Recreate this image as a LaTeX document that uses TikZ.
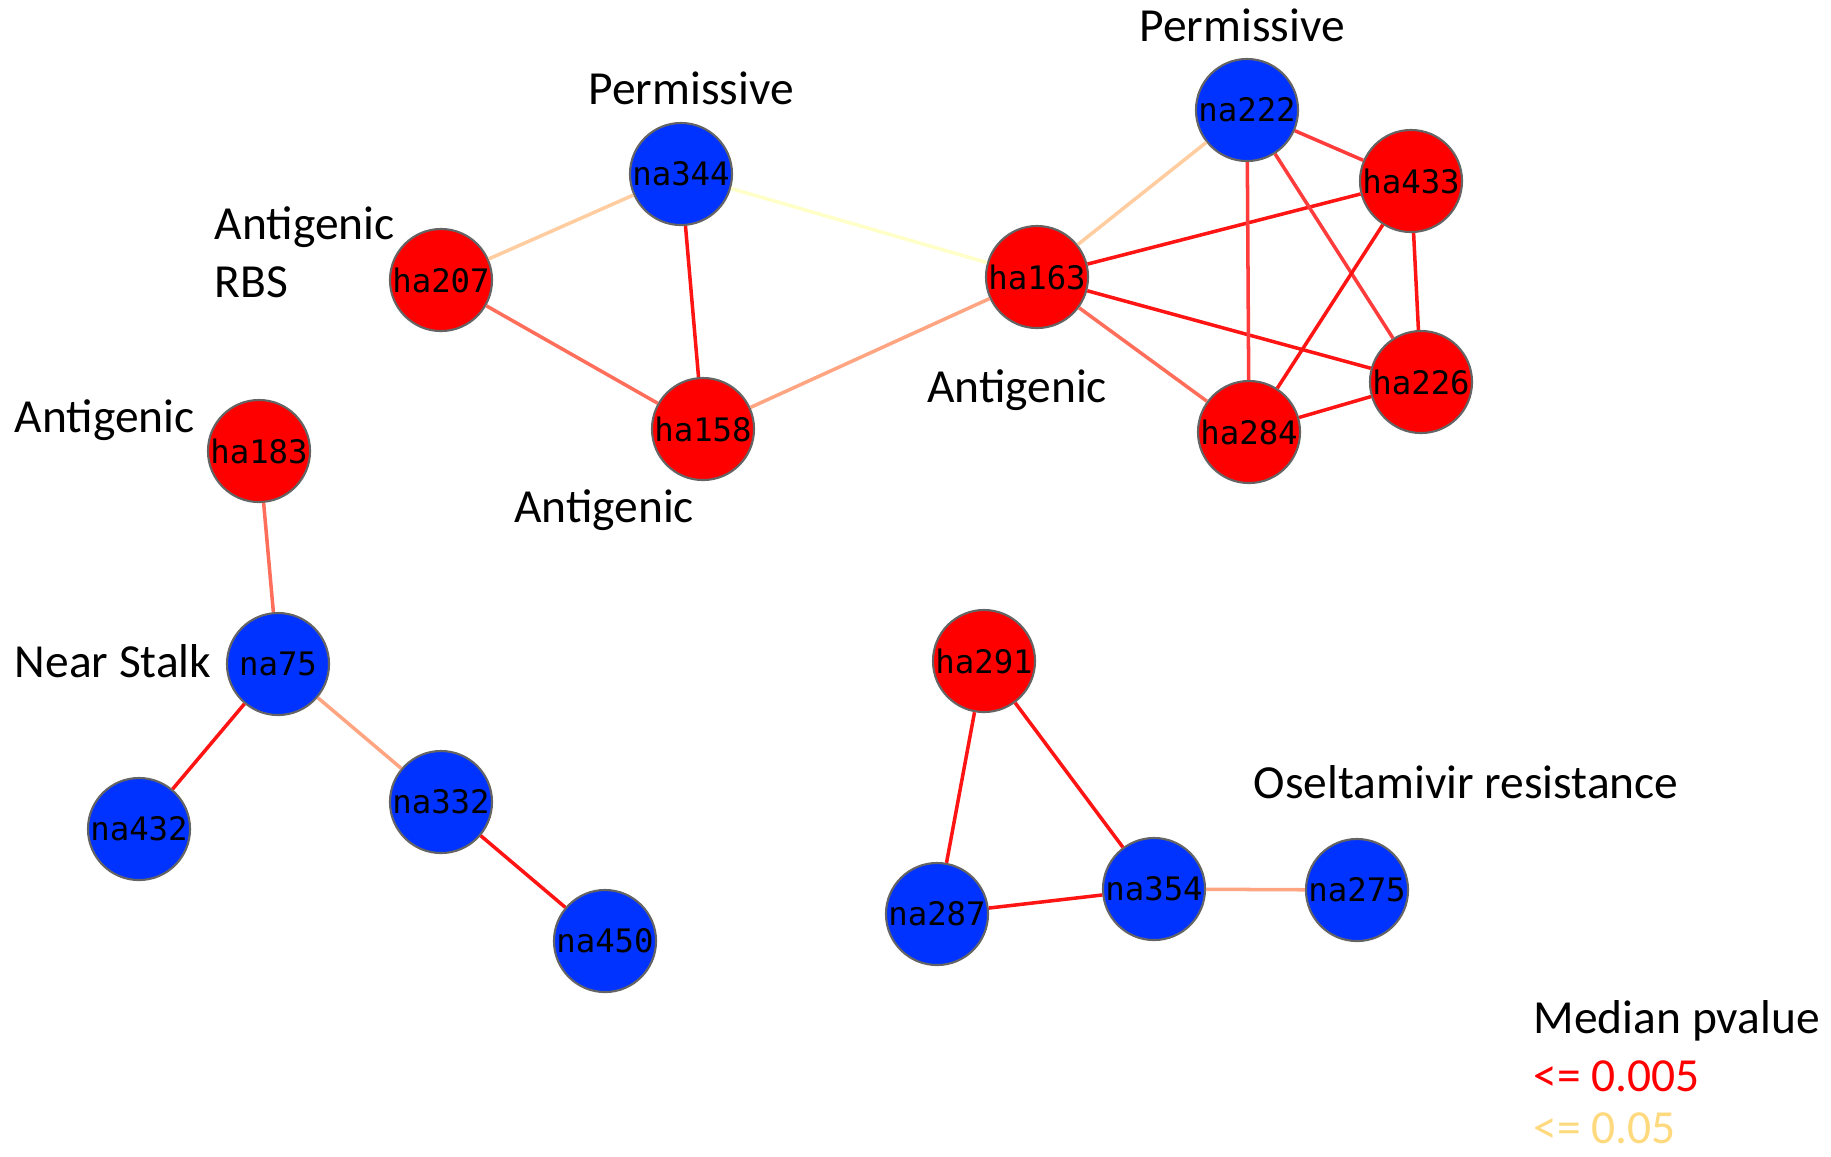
\documentclass[tikz,border=0pt]{standalone}
\usepackage{fontspec}
\setmainfont{Carlito}
\newfontfamily\monof{DejaVu Sans Mono}
\definecolor{nred}{RGB}{255,0,0}
\definecolor{nblue}{RGB}{0,51,255}
\definecolor{nborder}{RGB}{100,100,100}
\definecolor{eRed}{RGB}{255,20,20}
\definecolor{eRedB}{RGB}{255,60,60}
\definecolor{eSalmon}{RGB}{255,110,90}
\definecolor{eLSalmon}{RGB}{255,165,130}
\definecolor{ePeach}{RGB}{255,205,160}
\definecolor{eYellow}{RGB}{255,255,200}
\definecolor{legYellow}{RGB}{255,217,125}
\begin{document}
\begin{tikzpicture}[x=0.01cm,y=-0.01cm,
  vnode/.style={circle,draw=nborder,line width=0.6pt,minimum size=1.02cm,inner sep=0pt,font=\monof\fontsize{9.2}{11}\selectfont,text=black},
  hanode/.style={vnode,fill=nred},
  nanode/.style={vnode,fill=nblue},
  lbl/.style={font=\fontsize{13.5}{16.5}\selectfont,inner sep=0pt},
  edge/.style={line width=1pt}]
\useasboundingbox (0,0) rectangle (1831,1156);
% nodes
\node[nanode] (na344) at (681,174) {na344};
\node[hanode] (ha207) at (441,280) {ha207};
\node[hanode] (ha158) at (703,429) {ha158};
\node[hanode] (ha163) at (1037,277) {ha163};
\node[nanode] (na222) at (1247,110) {na222};
\node[hanode] (ha433) at (1411,181) {ha433};
\node[hanode] (ha226) at (1421,382) {ha226};
\node[hanode] (ha284) at (1249,432) {ha284};
\node[hanode] (ha183) at (259,451) {ha183};
\node[nanode] (na75) at (278,664) {na75};
\node[nanode] (na432) at (139,829) {na432};
\node[nanode] (na332) at (441,802) {na332};
\node[nanode] (na450) at (605,941) {na450};
\node[hanode] (ha291) at (984,661) {ha291};
\node[nanode] (na287) at (937,914) {na287};
\node[nanode] (na354) at (1154,889) {na354};
\node[nanode] (na275) at (1357,890) {na275};
% edges
\draw[edge,ePeach] (na344) -- (ha207);
\draw[edge,eYellow] (na344) -- (ha163);
\draw[edge,eRed] (na344) -- (ha158);
\draw[edge,eSalmon] (ha207) -- (ha158);
\draw[edge,eLSalmon] (ha158) -- (ha163);
\draw[edge,ePeach] (ha163) -- (na222);
\draw[edge,eRed] (ha163) -- (ha433);
\draw[edge,eRed] (ha163) -- (ha226);
\draw[edge,eSalmon] (ha163) -- (ha284);
\draw[edge,eRedB] (na222) -- (ha433);
\draw[edge,eRedB] (na222) -- (ha284);
\draw[edge,eRedB] (na222) -- (ha226);
\draw[edge,eRed] (ha433) -- (ha284);
\draw[edge,eRed] (ha433) -- (ha226);
\draw[edge,eRed] (ha284) -- (ha226);
\draw[edge,eSalmon] (ha183) -- (na75);
\draw[edge,eRed] (na75) -- (na432);
\draw[edge,eLSalmon] (na75) -- (na332);
\draw[edge,eRed] (na332) -- (na450);
\draw[edge,eRed] (ha291) -- (na287);
\draw[edge,eRed] (ha291) -- (na354);
\draw[edge,eRed] (na287) -- (na354);
\draw[edge,eLSalmon] (na354) -- (na275);
% labels
\node[lbl] (lPerm1) at (691,88) {Permissive};
\node[lbl] (lPerm2) at (1242,25) {Permissive};
\node[lbl,anchor=west,align=left] (lAntRBS) at (214,252) {Antigenic\\RBS};
\node[lbl] (lAnt1) at (1017,390) {Antigenic};
\node[lbl,anchor=west] (lAnt2) at (14,420) {Antigenic};
\node[lbl] (lAnt3) at (604,510) {Antigenic};
\node[lbl,anchor=west] (lStalk) at (14,661) {Near Stalk};
\node[lbl,anchor=west] (lOsel) at (1253,782) {Oseltamivir resistance};
\node[lbl,anchor=west] (lMed) at (1533,1021) {Median pvalue};
\node[lbl,anchor=west,text=nred] (lL1) at (1533,1076) {<= 0.005};
\node[lbl,anchor=west,text=legYellow] (lL2) at (1533,1128) {<= 0.05};
\end{tikzpicture}
\end{document}
